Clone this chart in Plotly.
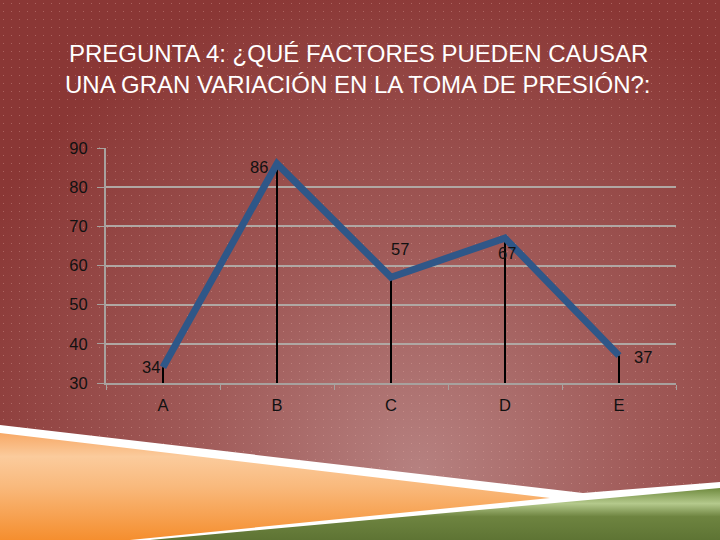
import base64
import plotly.graph_objects as go

categories = ["A", "B", "C", "D", "E"]
values = [34, 86, 57, 67, 37]
y_ticks = [30, 40, 50, 60, 70, 80, 90]
title_lines = ["PREGUNTA 4: ¿QUÉ FACTORES PUEDEN CAUSAR",
               "UNA GRAN VARIACIÓN EN LA TOMA DE PRESIÓN?:"]

W, H = 720, 540
L, R, T, B = 106, 44, 148, 157
PW, PH = W - L - R, H - T - B
FONT = "Liberation Sans, Arial"

svg = f"""<svg xmlns='http://www.w3.org/2000/svg' width='{W}' height='{H}' viewBox='0 0 {W} {H}'>
<defs>
<radialGradient id='bg' gradientUnits='userSpaceOnUse' cx='420' cy='470' r='500'>
<stop offset='0' stop-color='#B68180'/>
<stop offset='0.45' stop-color='#A05A58'/>
<stop offset='1' stop-color='#8A3735'/>
</radialGradient>
<pattern id='dots' width='8' height='8' patternUnits='userSpaceOnUse'>
<rect x='3' y='3' width='1' height='1' fill='#E8B0A8' fill-opacity='0.35'/>
</pattern>
<linearGradient id='org' x1='0' y1='0' x2='0' y2='1'>
<stop offset='0' stop-color='#F7A866'/>
<stop offset='0.22' stop-color='#FBCB9C'/>
<stop offset='0.5' stop-color='#F9B97C'/>
<stop offset='1' stop-color='#F58E2E'/>
</linearGradient>
<linearGradient id='grn' x1='0' y1='0' x2='0' y2='1'>
<stop offset='0' stop-color='#6F8A3E'/>
<stop offset='0.3' stop-color='#B4C98C'/>
<stop offset='0.55' stop-color='#6E8440'/>
<stop offset='1' stop-color='#5E7434'/>
</linearGradient>
</defs>
<rect width='{W}' height='{H}' fill='url(#bg)'/>
<rect width='{W}' height='{H}' fill='url(#dots)'/>
<polygon points='0,425 583,493 720,482 720,540 0,540' fill='#FFFFFF'/>
<polygon points='0,433 550,498 130,540 0,540' fill='url(#org)'/>
<polygon points='150,540 720,488 720,540' fill='url(#grn)'/>
</svg>"""
src = "data:image/svg+xml;base64," + base64.b64encode(svg.encode()).decode()

fig = go.Figure()

# drop lines from each point to the axis
fig.add_trace(go.Scatter(
    x=categories, y=values, mode="markers",
    marker=dict(size=1, opacity=0),
    error_y=dict(type="data", symmetric=False, array=[0] * len(values),
                 arrayminus=[v - y_ticks[0] for v in values],
                 color="#000000", thickness=2, width=0),
    hoverinfo="skip", showlegend=False,
))

fig.add_trace(go.Scatter(
    x=categories, y=values, mode="lines",
    line=dict(color="#2F5788", width=7),
    showlegend=False,
))

label_shift = [(-12, 0), (-18, -3), (9, 28), (2, -15), (24, -1)]
for c, v, (dx, dy) in zip(categories, values, label_shift):
    fig.add_annotation(x=c, y=v, text=str(v), showarrow=False,
                       xshift=dx, yshift=dy,
                       font=dict(family=FONT, size=16.5, color="#111111"))

for line, yc in zip(title_lines, [53, 84]):
    fig.add_annotation(xref="paper", yref="paper", x=(358 - L) / PW, y=1 + (T - yc) / PH,
                       text=line, showarrow=False, xanchor="center", yanchor="middle",
                       font=dict(family=FONT, size=24, color="#FFFFFF"))

fig.add_layout_image(dict(source=src, xref="paper", yref="paper",
                          x=-L / PW, y=1 + T / PH, sizex=W / PW, sizey=H / PH,
                          xanchor="left", yanchor="top", sizing="stretch", layer="below"))

fig.update_layout(
    width=W, height=H,
    margin=dict(l=L, r=R, t=T, b=B),
    paper_bgcolor="rgba(0,0,0,0)", plot_bgcolor="rgba(0,0,0,0)",
    font=dict(family=FONT, size=16.5, color="#111111"),
    xaxis=dict(type="category", range=[-0.5, 4.5], showgrid=False,
               showline=True, linecolor="#A8A19E", linewidth=2,
               ticks="outside", tickson="boundaries", ticklen=5, tickcolor="#A8A19E",
               tickfont=dict(size=16.5, color="#111111"), ticklabelstandoff=6),
    yaxis=dict(range=[30, 90], tickvals=y_ticks, showgrid=True,
               gridcolor="#B0A7A3", gridwidth=2, zeroline=False,
               showline=True, linecolor="#A8A19E", linewidth=2,
               ticks="outside", ticklen=7, tickcolor="#A8A19E",
               tickfont=dict(size=16.5, color="#111111"), ticklabelstandoff=6),
)

fig.write_html("out.html", config={"displayModeBar": False},
               post_script="document.body.style.margin='0';")
